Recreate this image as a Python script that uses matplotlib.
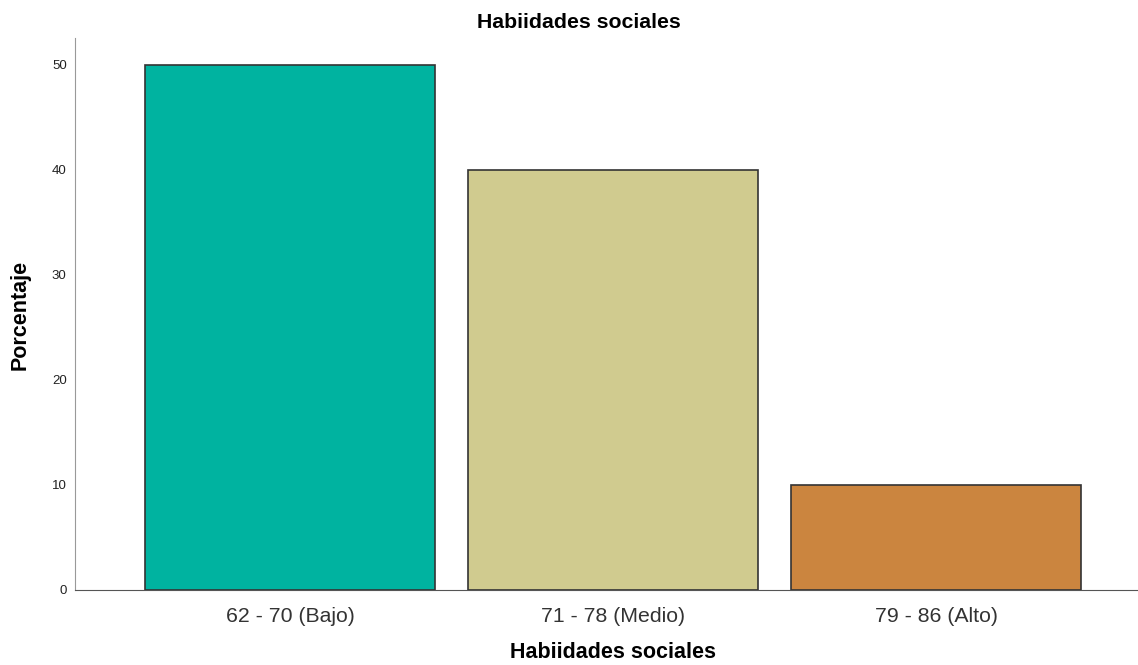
import matplotlib.pyplot as plt

categories = ['62 - 70 (Bajo)', '71 - 78 (Medio)', '79 - 86 (Alto)']
porcentaje = [50, 40, 10]
colores = ['#00b3a0', '#d0cb8f', '#cb853f']
yticks = [0, 10, 20, 30, 40, 50]

plt.rcParams['font.family'] = ['Arial', 'Liberation Sans', 'DejaVu Sans']

W, H = 1138, 665
fig = plt.figure(figsize=(W / 100, H / 100), dpi=100)
ax = fig.add_axes([75 / W, 75 / H, 1 - 75 / W, 552 / H])

x = range(len(categories))
ax.bar(x, porcentaje, width=0.898, color=colores, edgecolor='#333333', linewidth=1.2, zorder=2)

ax.set_xlim(-0.666, 2.625)
ax.set_ylim(0, 52.57)
ax.set_xticks(list(x))
ax.set_xticklabels(categories, fontsize=15.3, color='#333333')
ax.set_yticks(yticks)
ax.set_yticklabels([str(v) for v in yticks], fontsize=9.5, color='#222222')
ax.tick_params(length=0, pad=6)
ax.tick_params(axis='x', pad=12)

for s in ['top', 'right']:
    ax.spines[s].set_visible(False)
ax.spines['left'].set_color('#999999')
ax.spines['bottom'].set_color('#555555')

# titulos
fig.text(579 / W, 1 - 22 / H, 'Habiidades sociales', fontsize=15.3, fontweight='bold',
         ha='center', va='center')
fig.text(613 / W, 1 - 653 / H, 'Habiidades sociales', fontsize=15.5, fontweight='bold',
         ha='center', va='center')
fig.text(20 / W, 1 - 315 / H, 'Porcentaje', fontsize=15.5, fontweight='bold',
         ha='center', va='center', rotation=90)

fig.savefig('out.png', dpi=100)
